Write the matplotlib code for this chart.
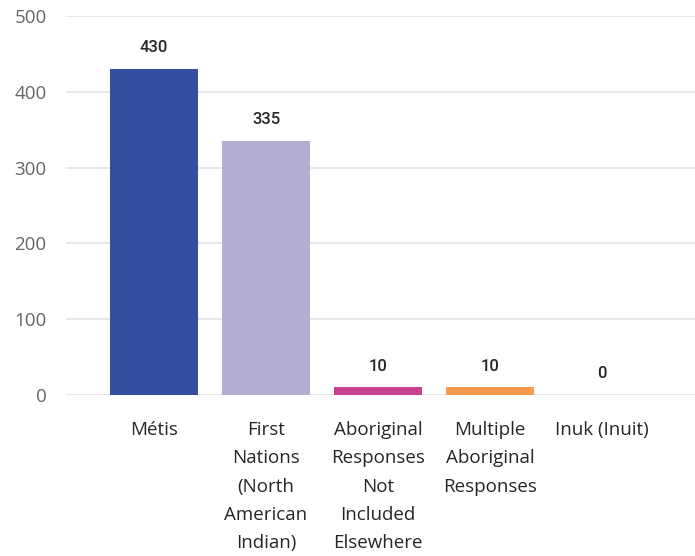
import numpy as np
import matplotlib.pyplot as plt

categories = ["Métis", "First\nNations\n(North\nAmerican\nIndian)",
              "Aboriginal\nResponses\nNot\nIncluded\nElsewhere",
              "Multiple\nAboriginal\nResponses", "Inuk (Inuit)"]
values = [430, 335, 10, 10, 0]
colors = ["#344ea0", "#b4aed6", "#c8418f", "#f89a50", "#5b9bd5"]

plt.rcParams['font.family'] = ['Open Sans', 'DejaVu Sans']

fig = plt.figure(figsize=(6.95, 5.56), dpi=100)
ax = fig.add_axes([0.095, 0.2896, 0.905, 0.6816])

x = np.arange(len(categories))
bars = ax.bar(x, values, width=0.78, color=colors, zorder=3)

for xi, v in zip(x, values):
    ax.annotate(str(v), (xi, v), xytext=(0, 10), textcoords="offset points",
                ha="center", va="bottom", fontsize=12, color="#262626",
                family=["Roboto", "DejaVu Sans"], fontweight="medium")

ax.set_ylim(0, 500)
ax.set_yticks([0, 100, 200, 300, 400, 500])
ax.set_xlim(-0.786, 4.83)
ax.set_xticks(x)
ax.set_xticklabels(categories, fontsize=13.5, color="#262626", linespacing=1.72)
ax.tick_params(axis="y", labelsize=13.5, labelcolor="#666666", length=0, pad=14)
ax.tick_params(axis="x", length=0, pad=19)
ax.grid(axis="y", color="#e4e4e4", linewidth=1.2, zorder=0)
for s in ax.spines.values():
    s.set_visible(False)

fig.savefig("out.png", dpi=100)
